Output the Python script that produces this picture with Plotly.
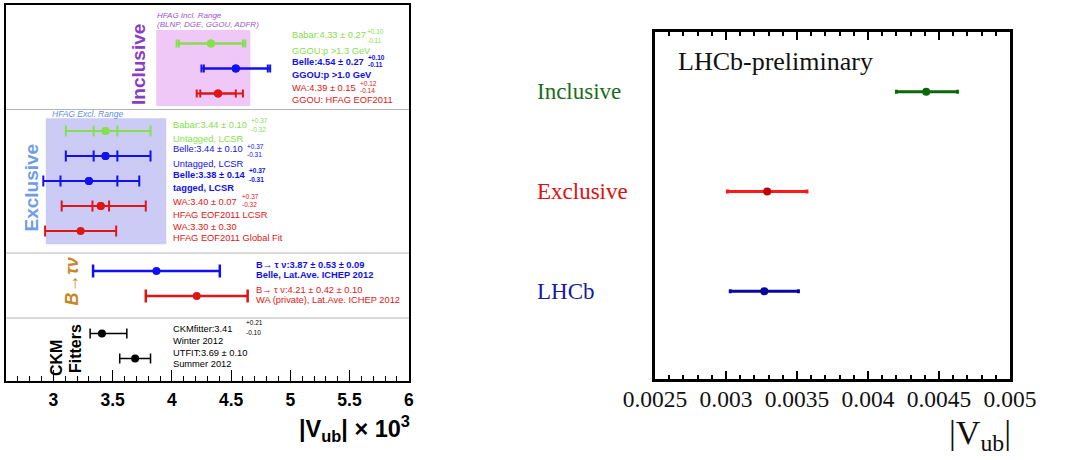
import plotly.graph_objects as go

W, H = 1083, 460
SANS = "Liberation Sans, Arial, sans-serif"
SERIF = "Liberation Serif, Times New Roman, serif"

# ---------------- Left panel data (|Vub| x 10^3) ----------------
row_names = ["Babar incl", "Belle incl", "WA incl", "Babar excl", "Belle untagged",
             "Belle tagged", "WA LCSR", "WA global fit", "Belle B->taunu", "WA B->taunu",
             "CKMfitter", "UTFIT"]
row_pos = [13.5, 12.5, 11.5, 10.0, 9.0, 8.0, 7.0, 6.0, 4.4, 3.4, 1.9, 0.9]
central = [4.33, 4.54, 4.39, 3.44, 3.44, 3.30, 3.40, 3.23, 3.87, 4.21, 3.41, 3.69]
stat_err = [0.27, 0.27, 0.15, 0.10, 0.10, 0.24, 0.07, None, None, None, None, None]
tot_lo = [0.29, 0.29, 0.18, 0.335, 0.335, 0.385, 0.33, 0.30, 0.535, 0.43, 0.10, 0.13]
tot_hi = [0.29, 0.29, 0.21, 0.38, 0.38, 0.425, 0.38, 0.30, 0.535, 0.43, 0.21, 0.13]

GREEN = "#86e04e"
BLUE = "#1010f0"
RED = "#e01515"
BLACK = "#000000"
row_colors = [GREEN, BLUE, RED, GREEN, BLUE, BLUE, RED, RED, BLUE, RED, BLACK, BLACK]
row_cap = [4, 4, 4, 5.5, 5.5, 5.5, 5.5, 5.5, 6.5, 6.5, 5, 5]
row_thick = [2, 2, 2, 2, 2, 2, 2, 2, 2.5, 2.5, 1.5, 1.5]

left_ticks = [3, 3.5, 4, 4.5, 5, 5.5, 6]

# ---------------- Right panel data ----------------
r_names = ["Inclusive", "Exclusive", "LHCb"]
r_pos = [3, 2, 1]
r_val = [0.00441, 0.00329, 0.00327]
r_lo = [0.00021, 0.00028, 0.00024]
r_hi = [0.00022, 0.00028, 0.00024]
r_line_col = ["#0a6a0a", "#ff1a1a", "#0a0a9a"]
r_mark_col = ["#0a6a0a", "#c00000", "#0a0a9a"]
r_text_col = ["#1a6e1a", "#e01010", "#1a1aa0"]


def pxx(x):
    return x / W


def pyy(y):
    return 1 - y / H


fig = go.Figure()

# left panel traces
for i in range(len(row_names)):
    fig.add_trace(go.Scatter(
        x=[central[i]], y=[row_pos[i]], mode="markers",
        marker=dict(size=8, color=row_colors[i]),
        error_x=dict(type="data", symmetric=False, array=[tot_hi[i]], arrayminus=[tot_lo[i]],
                     color=row_colors[i], thickness=row_thick[i], width=row_cap[i]),
        xaxis="x", yaxis="y", showlegend=False, hoverinfo="skip"))
    if stat_err[i] is not None:
        fig.add_trace(go.Scatter(
            x=[central[i]], y=[row_pos[i]], mode="markers",
            marker=dict(size=8, color=row_colors[i]),
            error_x=dict(type="data", symmetric=True, array=[stat_err[i]],
                         color=row_colors[i], thickness=row_thick[i], width=row_cap[i]),
            xaxis="x", yaxis="y", showlegend=False, hoverinfo="skip"))

# right panel traces
for i in range(len(r_names)):
    fig.add_trace(go.Scatter(
        x=[r_val[i]], y=[r_pos[i]], mode="markers",
        marker=dict(size=8, color=r_mark_col[i]),
        error_x=dict(type="data", symmetric=False, array=[r_hi[i]], arrayminus=[r_lo[i]],
                     color=r_line_col[i], thickness=3, width=2),
        xaxis="x2", yaxis="y2", showlegend=False, hoverinfo="skip"))

shapes = []
# HFAG ranges
shapes.append(dict(type="rect", xref="x", yref="y", x0=3.868, x1=4.663, y0=11.0, y1=14.04,
                   fillcolor="#efc8f8", line=dict(width=0), layer="below"))
shapes.append(dict(type="rect", xref="x", yref="y", x0=2.936, x1=3.953, y0=5.47, y1=10.51,
                   fillcolor="#cbcbf6", line=dict(width=0), layer="below"))
for ys in [10.86, 5.12, 2.52]:
    shapes.append(dict(type="line", xref="x domain", yref="y", x0=0, x1=1, y0=ys, y1=ys,
                       line=dict(color="#b4b4b4", width=1)))

ann = []


def add_text(x, y, text, size, color, family=SANS, xanchor="left", angle=0):
    ann.append(dict(x=pxx(x), y=pyy(y), xref="paper", yref="paper", text=text,
                    showarrow=False, xanchor=xanchor, yanchor="middle", textangle=angle,
                    font=dict(family=family, size=size, color=color), borderpad=0))


PURPLE = "#8a3cc4"
add_text(156, 15.7, "<i>HFAG Incl. Range</i>", 8, "#9955cc")
add_text(156, 24.3, "<i>(BLNP, DGE, GGOU, ADFR)</i>", 8, "#9955cc")
add_text(139, 65, "<b>Inclusive</b>", 19, PURPLE, xanchor="center", angle=-90)
add_text(51, 114, "<i>HFAG Excl. Range</i>", 8.5, "#5f8fe0")
add_text(30.5, 188, "<b>Exclusive</b>", 19, "#6f9de8", xanchor="center", angle=-90)
add_text(71.5, 282, "<b><i>B→τν</i></b>", 18, "#c8862a", xanchor="center", angle=-90)
add_text(56, 358, "<b>CKM</b>", 16, BLACK, xanchor="center", angle=-90)
add_text(75, 349, "<b>Fitters</b>", 16, BLACK, xanchor="center", angle=-90)

FS = 9.3
labels = [
    (290.7, 35, "Babar:4.33 ± 0.27", GREEN, False),
    (290.7, 51.5, "GGOU:p >1.3 GeV", GREEN, False),
    (290.7, 62, "Belle:4.54 ± 0.27", BLUE, True),
    (290.7, 74.5, "GGOU:p >1.0 GeV", BLUE, True),
    (290.7, 88.3, "WA:4.39 ± 0.15", RED, False),
    (290.7, 100.3, "GGOU: HFAG EOF2011", RED, False),
    (172.3, 125, "Babar:3.44 ± 0.10", GREEN, False),
    (172.3, 138.7, "Untagged, LCSR", GREEN, False),
    (172.3, 149, "Belle:3.44 ± 0.10", BLUE, False),
    (172.3, 164.3, "Untagged, LCSR", BLUE, False),
    (172.3, 175.3, "Belle:3.38 ± 0.14", BLUE, True),
    (172.3, 188.3, "tagged, LCSR", BLUE, True),
    (172.3, 201.7, "WA:3.40 ± 0.07", RED, False),
    (172.3, 214.7, "HFAG EOF2011 LCSR", RED, False),
    (172.3, 227.3, "WA:3.30 ± 0.30", RED, False),
    (172.3, 237.7, "HFAG EOF2011 Global Fit", RED, False),
    (255, 264.7, "B→ τ ν:3.87 ± 0.53 ± 0.09", BLUE, True),
    (255, 274.7, "Belle, Lat.Ave. ICHEP 2012", BLUE, True),
    (255, 289.7, "B→ τ ν:4.21 ± 0.42 ± 0.10", RED, False),
    (255, 300.3, "WA (private), Lat.Ave. ICHEP 2012", RED, False),
    (172.3, 328.7, "CKMfitter:3.41", BLACK, False),
    (172.3, 341.3, "Winter 2012", BLACK, False),
    (172.3, 353.3, "UTFIT:3.69 ± 0.10", BLACK, False),
    (172.3, 363.7, "Summer 2012", BLACK, False),
]
for x, y, t, c, b in labels:
    add_text(x, y, f"<b>{t}</b>" if b else t, FS, c)

scripts = [
    (366, 31.7, 40.7, "+0.10", "-0.11", GREEN, False),
    (367, 57.2, 64.6, "+0.10", "-0.11", BLUE, True),
    (358.5, 83.3, 90.7, "+0.12", "-0.14", RED, False),
    (249.5, 120.5, 129.3, "+0.37", "-0.32", GREEN, False),
    (246, 146.3, 155, "+0.37", "-0.31", BLUE, False),
    (248, 171, 179, "+0.37", "-0.31", BLUE, True),
    (240.5, 196.3, 204.7, "+0.37", "-0.32", RED, False),
    (245, 322.7, 332.3, "+0.21", "-0.10", BLACK, False),
]
for x, ysup, ysub, sup, sub, c, b in scripts:
    add_text(x, ysup, f"<b>{sup}</b>" if b else sup, 6.5, c)
    add_text(x, ysub, f"<b>{sub}</b>" if b else sub, 6.5, c)

# left axis title
add_text(411, 428, "<b>|V<sub>ub</sub>| × 10<sup>3</sup></b>", 23.5, BLACK, xanchor="right")

# right panel texts
for i in range(len(r_names)):
    ann.append(dict(x=pxx(535), y=r_pos[i], xref="paper", yref="y2", text=r_names[i],
                    showarrow=False, xanchor="left", yanchor="middle",
                    font=dict(family=SERIF, size=23, color=r_text_col[i])))
add_text(676.7, 61, "LHCb-preliminary", 26, "#111111", family=SERIF)
add_text(1012, 435, "|V<sub>ub</sub>|", 34, "#111111", family=SERIF, xanchor="right")

fig.update_layout(
    width=W, height=H, margin=dict(l=0, r=0, t=0, b=0, pad=0, autoexpand=False),
    paper_bgcolor="white", plot_bgcolor="white", showlegend=False,
    shapes=shapes, annotations=ann,
    xaxis=dict(domain=[pxx(6), pxx(409)], range=[2.6, 6.002], tickmode="array",
               tickvals=left_ticks, tickformat=".1~f", automargin=False,
               ticks="inside", ticklen=11, tickwidth=1, tickcolor="black",
               minor=dict(dtick=0.1, tick0=3, ticks="inside", ticklen=5, tickwidth=1, tickcolor="black"),
               showline=True, linecolor="black", linewidth=2, mirror=True,
               showgrid=False, zeroline=False, ticklabelstandoff=2,
               tickfont=dict(family=SANS, size=17.5, color="black", weight="bold")),
    yaxis=dict(domain=[pyy(381), pyy(5)], range=[0, 15.04], showticklabels=False, ticks="",
               showline=True, linecolor="black", linewidth=2, mirror=True, automargin=False,
               showgrid=False, zeroline=False),
    xaxis2=dict(domain=[pxx(655), pxx(1010)], range=[0.0025, 0.005], tickmode="linear",
                tick0=0.0025, dtick=0.0005, tickformat=".4~f", anchor="y2", automargin=False,
                ticks="inside", ticklen=8, tickwidth=2, tickcolor="black",
                minor=dict(dtick=0.0001, tick0=0.0025, ticks="inside", ticklen=4, tickwidth=2, tickcolor="black"),
                showline=True, linecolor="black", linewidth=3, mirror="ticks",
                showgrid=False, zeroline=False, ticklabelstandoff=-3,
                tickfont=dict(family=SERIF, size=23.5, color="#111111")),
    yaxis2=dict(domain=[pyy(379), pyy(32)], range=[0.12, 3.6], anchor="x2", automargin=False,
                showticklabels=False, ticks="", showline=True, linecolor="black",
                linewidth=3, mirror=True, showgrid=False, zeroline=False),
)

fig.write_html("out.html", config={"displayModeBar": False},
               post_script="document.body.style.margin='0px';")
